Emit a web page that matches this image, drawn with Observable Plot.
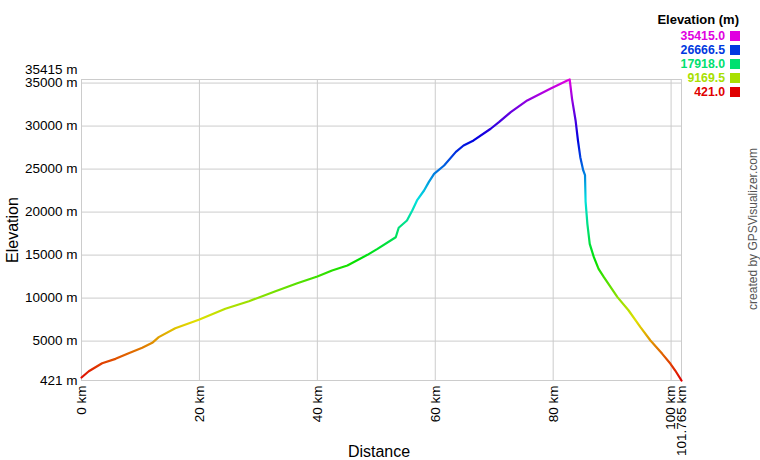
<!DOCTYPE html>
<html>
<head>
<meta charset="utf-8">
<script src="https://cdn.jsdelivr.net/npm/d3@7"></script>
<script src="https://cdn.jsdelivr.net/npm/@observablehq/plot@0.6"></script>
<style>
  html, body { margin: 0; padding: 0; background: #fff; }
  #wrap { position: relative; width: 760px; height: 460px; font-family: Arial, "Liberation Sans", sans-serif; }
  #wrap svg text { font-size: 13.5px; fill: #000; }
  .abs { position: absolute; white-space: nowrap; }
  .leg { font-weight: bold; font-size: 12.3px; line-height: 12px; text-align: right; }
</style>
</head>
<body>
<div id="wrap"></div>
<script>
// Distance along the track (km)
const distanceKm = [0, 1.24, 3.5, 5.77, 8.0, 10.3, 12.0, 13.1, 15.9, 19.9, 24.4, 28.4, 32.9, 36.6, 40.0, 42.5, 45.1, 48.5, 50.2, 53.3, 53.8, 55.2, 56.1, 56.9, 58.1, 58.9, 59.8, 61.5, 63.5, 64.8, 66.5, 69.4, 70.8, 72.8, 75.6, 79.5, 82.4, 82.8, 83.2, 83.8, 84.2, 84.6, 85.1, 85.4, 85.5, 85.8, 86.2, 86.9, 87.7, 88.6, 90.9, 92.8, 94.8, 96.5, 98.5, 99.9, 100.7, 101.765];
// Elevation (m)
const elevationM = [770, 1500, 2430, 2940, 3600, 4220, 4800, 5460, 6500, 7480, 8760, 9640, 10800, 11730, 12510, 13210, 13790, 15030, 15730, 17080, 18180, 19020, 20190, 21350, 22510, 23480, 24450, 25420, 27000, 27740, 28330, 29690, 30450, 31620, 32980, 34340, 35300, 35415, 33170, 30650, 28330, 26380, 24840, 24300, 21200, 18640, 16310, 14760, 13400, 12430, 10110, 8560, 6620, 5070, 3520, 2360, 1580, 421];
// Axis ticks
const xTicks = [0, 20, 40, 60, 80, 100, 101.765];
const yTicks = [421, 5000, 10000, 15000, 20000, 25000, 30000, 35000, 35415];
const yTopTick = [35415];
// Legend values
const legendValues = [35415.0, 26666.5, 17918.0, 9169.5, 421.0];

const minE = 421, maxE = 35415;
const hueOf = e => 300 * (e - minE) / (maxE - minE);
const colorOf = e => d3.hsl(hueOf(e), 1, 0.44).formatHex();

const track = distanceKm.map((d, i) => ({km: d, m: elevationM[i]}));

const plot = Plot.plot({
  width: 760,
  height: 460,
  marginLeft: 81,
  marginRight: 79,
  marginTop: 79,
  marginBottom: 80,
  style: {fontFamily: 'Arial, "Liberation Sans", sans-serif', fontSize: "13.5px", color: "#000", background: "#fff"},
  x: {domain: [0, 101.765], ticks: xTicks, tickFormat: d => d + " km", tickRotate: -90, tickSize: 0, tickPadding: 5, label: null},
  y: {domain: [421, 35415], ticks: yTicks.filter(t => t !== 35415), tickFormat: d => d + " m", tickSize: 0, tickPadding: 4, label: null},
  marks: [
    Plot.gridX(xTicks, {stroke: "#cccccc", strokeOpacity: 1, strokeWidth: 1}),
    Plot.gridY(yTicks, {stroke: "#cccccc", strokeOpacity: 1, strokeWidth: 1}),
    Plot.text(yTopTick, {y: d => d, text: d => d + " m", frameAnchor: "left", textAnchor: "end", dx: -4, dy: -10}),
    Plot.line(track, {x: "km", y: "m", stroke: "url(#elevGrad)", strokeWidth: 2.2, curve: "linear"})
  ]
});

// vertical elevation colour gradient, positioned through the y scale
const ys = plot.scale("y");
const ns = "http://www.w3.org/2000/svg";
const defs = document.createElementNS(ns, "defs");
const grad = document.createElementNS(ns, "linearGradient");
grad.setAttribute("id", "elevGrad");
grad.setAttribute("gradientUnits", "userSpaceOnUse");
grad.setAttribute("x1", 0); grad.setAttribute("x2", 0);
grad.setAttribute("y1", ys.apply(minE)); grad.setAttribute("y2", ys.apply(maxE));
const N = 60;
for (let i = 0; i <= N; i++) {
  const s = document.createElementNS(ns, "stop");
  s.setAttribute("offset", i / N);
  s.setAttribute("stop-color", colorOf(minE + (maxE - minE) * i / N));
  grad.appendChild(s);
}
defs.appendChild(grad);
plot.insertBefore(defs, plot.firstChild);

const wrap = document.getElementById("wrap");
wrap.appendChild(plot);

function addDiv(html, css, cls) {
  const d = document.createElement("div");
  d.className = "abs" + (cls ? " " + cls : "");
  d.innerHTML = html;
  Object.assign(d.style, css);
  wrap.appendChild(d);
  return d;
}

// axis titles
addDiv("Elevation", {left: "13px", top: "230px", fontSize: "16px", transform: "translate(-50%,-50%) rotate(-90deg)"});
addDiv("Distance", {left: "379px", top: "452px", fontSize: "16px", transform: "translate(-50%,-50%)"});
// watermark
addDiv("created by GPSVisualizer.com", {left: "753px", top: "229px", fontSize: "12px", color: "#555", transform: "translate(-50%,-50%) rotate(-90deg)"});

// legend
addDiv("Elevation (m)", {right: "21px", top: "12px", fontSize: "13px", fontWeight: "bold", color: "#000"});
legendValues.forEach((v, i) => {
  const c = colorOf(v);
  const y = 30 + i * 14;
  addDiv(v.toFixed(1), {right: "35px", top: y + "px", color: c}, "leg");
  addDiv("", {left: "730px", top: (y + 1) + "px", width: "10px", height: "10px", background: c});
});
</script>
</body>
</html>
